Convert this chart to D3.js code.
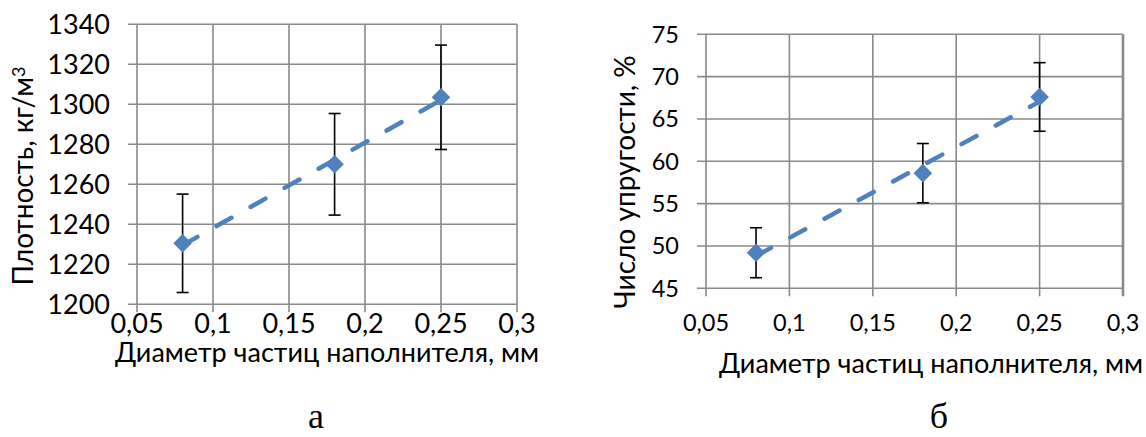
<!DOCTYPE html>
<html lang="ru">
<head>
<meta charset="utf-8">
<title>Плотность и число упругости</title>
<script src="https://d3js.org/d3.v7.min.js"></script>
<style>
  body { margin: 0; background: #fff; }
  svg { display: block; }
  .tick-label { font-family: Lato, "Open Sans", sans-serif; fill: #000; }
  .axis-title { font-family: Lato, "Open Sans", sans-serif; fill: #000; }
  .panel-letter { font-family: "Liberation Serif", "DejaVu Serif", serif; font-size: 36px; fill: #000; }
</style>
</head>
<body>
<svg width="1146" height="437"></svg>
<script>
// data
const diameter = [0.08, 0.18, 0.25];
const density = [1230.5, 1270, 1303.5];
const densityErr = [24.6, 25.4, 26.1];
const elasticity = [49.2, 58.6, 67.6];
const elasticityErr = [2.95, 3.5, 4.05];

const xTicks = [0.05, 0.1, 0.15, 0.2, 0.25, 0.3];
const densityTicks = [1200, 1220, 1240, 1260, 1280, 1300, 1320, 1340];
const elasticityTicks = [45, 50, 55, 60, 65, 70, 75];

const xTitle = "Диаметр частиц наполнителя, мм";

const blue = "#4f81bd";
const gridColor = "#8a8a8a";
const fmt = d => String(d).replace(".", ",");

const svg = d3.select("svg");

// panels: layout only
const panels = [
  {
    x0: 137, x1: 517, y0: 24.3, y1: 304.3,
    y: density, err: densityErr, yTicks: densityTicks,
    labelSize: 27, xLabelY: 333, edgeWidth: 1.6,
    xTitleX: 327, xTitleY: 362, yTitleX: 33, yTitleY: 176,
    letter: "а", letterX: 316, letterY: 428
  },
  {
    x0: 706, x1: 1123, y0: 34.3, y1: 288.3,
    y: elasticity, err: elasticityErr, yTicks: elasticityTicks,
    labelSize: 23.5, xLabelY: 331, edgeWidth: 2.6,
    xTitleX: 931, xTitleY: 373, yTitleX: 635, yTitleY: 182,
    letter: "б", letterX: 939, letterY: 428
  }
];

panels.forEach((p, pi) => {
  const g = svg.append("g");
  const x = d3.scaleLinear().domain([0.05, 0.3]).range([p.x0, p.x1]);
  const y = d3.scaleLinear().domain([p.yTicks[0], p.yTicks[p.yTicks.length - 1]]).range([p.y1, p.y0]);
  const yTitle = pi === 0 ? "Плотность, кг/м" : "Число упругости, %";

  // gridlines with outward ticks
  g.selectAll(".hgrid").data(p.yTicks).enter().append("line")
    .attr("x1", p.x0 - 9).attr("x2", p.x1)
    .attr("y1", d => y(d)).attr("y2", d => y(d))
    .attr("stroke", gridColor).attr("stroke-width", 1.6);
  g.selectAll(".vgrid").data(xTicks).enter().append("line")
    .attr("x1", d => x(d)).attr("x2", d => x(d))
    .attr("y1", p.y0).attr("y2", p.y1 + 8)
    .attr("stroke", gridColor)
    .attr("stroke-width", (d, i) => i === xTicks.length - 1 ? p.edgeWidth : 1.6);

  // tick labels
  g.selectAll(".ylab").data(p.yTicks).enter().append("text")
    .attr("class", "tick-label").attr("font-size", p.labelSize)
    .attr("x", p.x0 - 27).attr("y", d => y(d))
    .attr("dy", "0.36em").attr("text-anchor", "end")
    .text(d => d);
  g.selectAll(".xlab").data(xTicks).enter().append("text")
    .attr("class", "tick-label").attr("font-size", p.labelSize)
    .attr("x", d => x(d)).attr("y", p.xLabelY)
    .attr("text-anchor", "middle")
    .text(fmt);

  // error bars
  const eb = g.selectAll(".err").data(diameter).enter().append("g");
  eb.append("line")
    .attr("x1", d => x(d)).attr("x2", d => x(d))
    .attr("y1", (d, i) => y(p.y[i] + p.err[i])).attr("y2", (d, i) => y(p.y[i] - p.err[i]))
    .attr("stroke", "#000").attr("stroke-width", 1.6);
  [1, -1].forEach(s => {
    eb.append("line")
      .attr("x1", d => x(d) - 6).attr("x2", d => x(d) + 6)
      .attr("y1", (d, i) => y(p.y[i] + s * p.err[i])).attr("y2", (d, i) => y(p.y[i] + s * p.err[i]))
      .attr("stroke", "#000").attr("stroke-width", 1.6);
  });

  // markers
  g.selectAll(".pt").data(diameter).enter().append("path")
    .attr("d", d3.symbol().type(d3.symbolDiamond2).size(220))
    .attr("transform", (d, i) => `translate(${x(d)},${y(p.y[i])})`)
    .attr("fill", blue);

  // linear trendline
  const mx = d3.mean(diameter), my = d3.mean(p.y);
  const slope = d3.sum(diameter, (d, i) => (d - mx) * (p.y[i] - my)) / d3.sum(diameter, d => (d - mx) ** 2);
  const xs = d3.extent(diameter);
  g.append("line")
    .attr("x1", x(xs[0])).attr("y1", y(my + slope * (xs[0] - mx)))
    .attr("x2", x(xs[1])).attr("y2", y(my + slope * (xs[1] - mx)))
    .attr("stroke", blue).attr("stroke-width", 4.5)
    .attr("stroke-linecap", "round")
    .attr("stroke-dasharray", "17,22");

  // axis titles
  g.append("text").attr("class", "axis-title").attr("font-size", 27)
    .attr("x", p.xTitleX).attr("y", p.xTitleY)
    .attr("text-anchor", "middle").text(xTitle);
  const yt = g.append("text").attr("class", "axis-title").attr("font-size", 28)
    .attr("transform", `translate(${p.yTitleX},${p.yTitleY}) rotate(-90)`)
    .attr("text-anchor", "middle").text(yTitle);
  if (pi === 0) {
    yt.append("tspan").attr("dy", "-0.45em").attr("font-size", "18px").text("3");
  }

  g.append("text").attr("class", "panel-letter")
    .attr("x", p.letterX).attr("y", p.letterY)
    .attr("text-anchor", "middle").text(p.letter);
});
</script>
</body>
</html>
